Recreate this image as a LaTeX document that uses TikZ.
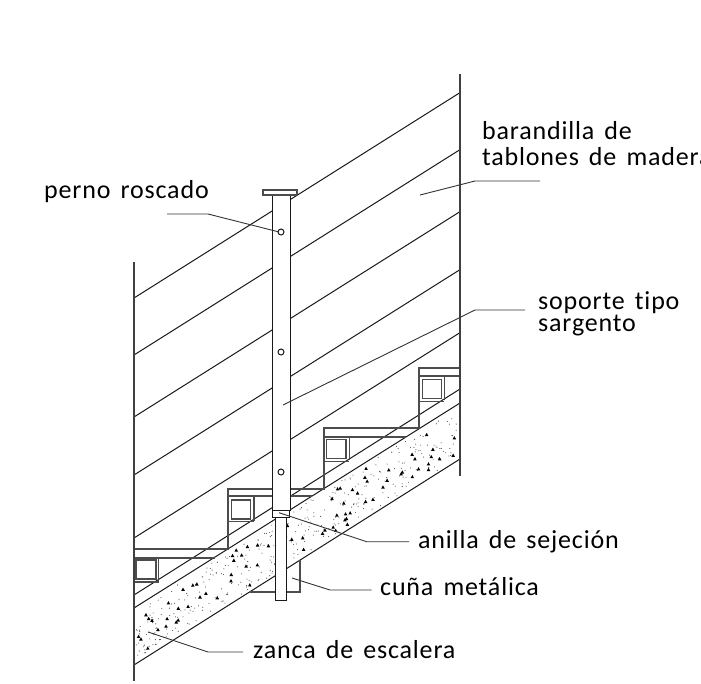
\documentclass[tikz,border=0pt]{standalone}
\usepackage{fontspec}
\setmainfont{Carlito}[LetterSpace=3.2,WordSpace=1.5,Ligatures=NoCommon]
\usepackage{tikz}
\tikzset{
  thin line/.style={line width=1pt,black!90},
  step line/.style={line width=1.25pt,black!70},
  leader/.style={line width=0.9pt,black!80},
  lbl/.style={anchor=base west,inner sep=0pt,font=\fontsize{26}{26}\selectfont,text=black},
}

\begin{document}
\begin{tikzpicture}[x=1pt,y=-1pt]
  \newcommand\PW{701}
  \newcommand\PH{683}
  \useasboundingbox (0,0) rectangle (\PW,\PH);

  % stipple of the concrete
  \pgfmathsetseed{23}
  \foreach \i in {1,...,360}{
    \pgfmathsetmacro\px{136+rnd*322}
    \pgfmathsetmacro\py{608-0.63*(\px-134)+3+rnd*51}
    \fill[black!70](\px,\py)circle(0.55pt);
  }
  \foreach \i in {1,...,80}{
    \pgfmathsetmacro\px{138+rnd*318}
    \pgfmathsetmacro\py{608-0.63*(\px-134)+6+rnd*45}
    \fill[black](\px-1.8,\py+1.5)--(\px,\py-1.8)--(\px+1.8,\py+1.5)--cycle;
  }

  % rails
  \foreach \a in {298,355,417,475,538}
    \draw[thin line](134,\a)--(460,{\a-0.63*326});
  \draw[thin line](134,595)--(460,389);

  % concrete stringer
  \draw[thin line](134,608)--(460,403);
  \draw[thin line](134,665)--(460,459);

  % steps
  \draw[step line](134,549)--(228,549)--(228,489)--(324,489)--(324,428)--(419,428)--(419,368)--(460,368);
  \draw[step line](134,558)--(215,558);
  \draw[step line](228,496)--(312,496);
  \draw[step line](324,437)--(406,437);
  \draw[step line](419,376)--(460,376);
  \draw[step line](324,489)--(324,428);

  % blocks
  \draw[step line](136,560)rectangle(156,579);
  \draw[step line](158.7,558)--(158.7,582);
  \draw[step line](134,582)--(158.7,582);
  \draw[step line](231.7,500)rectangle(250.7,519);
  \draw[step line](254,496)--(254,521);
  \draw[step line](228,521.7)--(254,521.7);
  \draw[step line](326.7,439.3)rectangle(346,458.7);
  \draw[step line](349.3,437)--(349.3,460);
  \draw[step line](324,461.7)--(349.3,461.7);
  \draw[step line](422.3,379.3)rectangle(441.7,398.7);
  \draw[step line](444.3,376)--(444.3,400);
  \draw[step line](419,401.7)--(444.3,401.7);

  % wedge
  \draw[step line](300,560)--(300,592)--(250,592);

  % walls
  \draw[line width=1.1pt,black!75](134,262)--(134,681);
  \draw[line width=1.1pt,black!75](460,74)--(460,476);

  % post
  \draw[thin line,fill=white](275,517)rectangle(286,600);
  \draw[thin line,fill=white](272,195)rectangle(290,510);
  \draw[step line,fill=white](263,190)rectangle(297,195);
  \draw[thin line,fill=white](272,510)rectangle(289,517);
  \foreach \cy in {232,352,472}
    \draw[thin line](281,\cy)circle(3pt);

  % labels
  \node[lbl](perno) at (44,198){perno roscado};
  \node[lbl](barandilla) at (482,139){barandilla de};
  \node[lbl](tablones) at (482,165){tablones de madera};
  \node[lbl](soporte) at (538,309){soporte tipo};
  \node[lbl](sargento) at (538,331){sargento};
  \node[lbl](anilla) at (418,548){anilla de sejeción};
  \node[lbl](cuna) at (380,595){cuña metálica};
  \node[lbl](zanca) at (253,658){zanca de escalera};

  % leaders
  \coordinate (pernoa) at (278,231.7);
  \coordinate (pernob) at (208,214);
  \coordinate (pernoc) at (167,214);
  \draw[leader](pernoa)--(pernob)--(pernoc);
  \coordinate (baranda) at (420,195);
  \coordinate (barandb) at (475,181);
  \coordinate (barandc) at (540,181);
  \draw[leader](baranda)--(barandb)--(barandc);
  \coordinate (soportea) at (283,405);
  \coordinate (soporteb) at (475,310);
  \coordinate (soportec) at (525,310);
  \draw[leader](soportea)--(soporteb)--(soportec);
  \coordinate (anillaa) at (279,512.7);
  \coordinate (anillab) at (366.7,541.7);
  \coordinate (anillac) at (409,541.7);
  \draw[leader](anillaa)--(anillab)--(anillac);
  \coordinate (cunaa) at (292,578);
  \coordinate (cunab) at (330,590);
  \coordinate (cunac) at (371.7,590);
  \draw[leader](cunaa)--(cunab)--(cunac);
  \coordinate (zancaa) at (148,632);
  \coordinate (zancab) at (208,652);
  \coordinate (zancac) at (243,652);
  \draw[leader](zancaa)--(zancab)--(zancac);
\end{tikzpicture}
\end{document}
